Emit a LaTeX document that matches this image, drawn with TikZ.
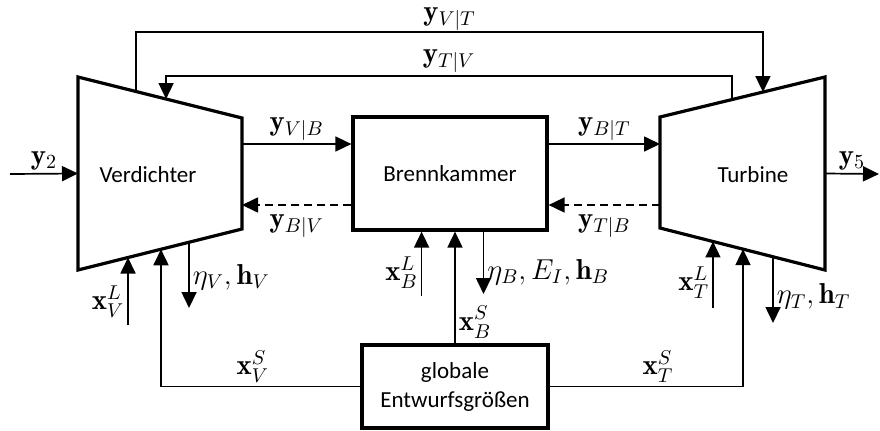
\documentclass[tikz,border=0pt]{standalone}
\usepackage{amsmath}
\usepackage{fontspec}
\newfontfamily\blockfont{Carlito}
\usetikzlibrary{arrows.meta, positioning, calc}

\tikzset{
  unit/.style={line width=1.6pt, line join=miter},
  txt/.style={font=\blockfont\fontsize{11.5}{14.5}\selectfont, align=center, inner sep=0pt},
  box/.style={txt, draw, line width=1.6pt, minimum width=97pt, minimum height=56.5pt},
  flow/.style={line width=0.85pt, -{Triangle[length=8pt,width=7.5pt]}},
  back/.style={flow, dash pattern=on 4pt off 2.5pt},
  lbl/.style={font=\Large, inner sep=1.5pt}
}

\begin{document}
\begin{tikzpicture}[x=0.5pt, y=-0.5pt]
  \useasboundingbox (0,0) rectangle (880,430);

  % --- Verdichter ---
  \coordinate (Vtl) at (78,77);
  \coordinate (Vtr) at (242,118);
  \coordinate (Vbr) at (242,229);
  \coordinate (Vbl) at (78,270);
  \draw[unit] (Vtl) -- (Vtr) -- (Vbr) -- (Vbl) -- cycle;
  \node[txt] (V) at (148,175) {Verdichter};

  % --- Turbine ---
  \coordinate (Ttl) at (660,117);
  \coordinate (Ttr) at (825,77);
  \coordinate (Tbr) at (825,270);
  \coordinate (Tbl) at (660,228);
  \draw[unit] (Ttl) -- (Ttr) -- (Tbr) -- (Tbl) -- cycle;
  \node[txt] (T) at (753,175) {Turbine};

  % --- Brennkammer and global box ---
  \node[box] (B) at (450,173.5) {Brennkammer};
  \node[box, minimum width=93pt, minimum height=41.5pt] (G) at (455,386.5) {globale\\Entwurfsgrößen};

  % --- points on the edges ---
  \coordinate (Vo)   at ($(Vtl)!0.354!(Vtr)$);
  \coordinate (Vi)   at ($(Vtl)!0.537!(Vtr)$);
  \coordinate (To)   at ($(Ttl)!0.436!(Ttr)$);
  \coordinate (Ti)   at ($(Ttl)!0.624!(Ttr)$);
  \coordinate (VxL)  at ($(Vbl)!0.305!(Vbr)$);
  \coordinate (VxS)  at ($(Vbl)!0.506!(Vbr)$);
  \coordinate (Veta) at ($(Vbl)!0.677!(Vbr)$);
  \coordinate (TxL)  at ($(Tbl)!0.321!(Tbr)$);
  \coordinate (TxS)  at ($(Tbl)!0.503!(Tbr)$);
  \coordinate (Teta) at ($(Tbl)!0.685!(Tbr)$);
  \coordinate (BxL)  at ($(B.south west)!0.356!(B.south east)$);
  \coordinate (Beta) at ($(B.south west)!0.67!(B.south east)$);
  \coordinate (top1) at (0,32);
  \coordinate (top2) at (0,76);
  \coordinate (y2in) at (10,174);
  \coordinate (y5out) at (879,174);

  % --- main flow ---
  \draw[flow] (y2in) -- node[lbl, above] {$\mathbf{y}_2$} ($(Vtl)!0.5!(Vbl)$);
  \draw[flow] ($(Ttr)!0.5!(Tbr)$) -- node[lbl, above] {$\mathbf{y}_5$} (y5out);
  \draw[flow] (Vtr |- 0,144) -- node[lbl, above] {$\mathbf{y}_{V|B}$} (B.west |- 0,144);
  \draw[back] (B.west |- 0,205) -- node[lbl, below=3pt] {$\mathbf{y}_{B|V}$} (Vtr |- 0,205);
  \draw[flow] (B.east |- 0,144) -- node[lbl, above] {$\mathbf{y}_{B|T}$} (Ttl |- 0,144);
  \draw[back] (Ttl |- 0,205) -- node[lbl, below=3pt] {$\mathbf{y}_{T|B}$} (B.east |- 0,205);

  % --- couplings over the top ---
  \draw[flow] (Vo) -- (Vo |- top1) -- node[lbl, above, inner sep=0.5pt] {$\mathbf{y}_{V|T}$} (Ti |- top1) -- (Ti);
  \draw[flow] (To) -- (To |- top2) -- node[lbl, above] {$\mathbf{y}_{T|V}$} (Vi |- top2) -- (Vi);

  % --- Verdichter inputs and outputs ---
  \draw[flow] (VxL |- 0,325) -- node[lbl, left, pos=0.35] {$\mathbf{x}_V^L$} (VxL);
  \draw[flow] (G.west) -| node[lbl, above, pos=0.27] {$\mathbf{x}_V^S$} (VxS);
  \draw[flow] (Veta) -- node[lbl, right, pos=0.53] {$\eta_V, \mathbf{h}_V$} (Veta |- 0,308);

  % --- Brennkammer inputs and outputs ---
  \draw[flow] (BxL |- 0,296) -- node[lbl, left, pos=0.36] {$\mathbf{x}_B^L$} (BxL);
  \draw[flow] (G.north) -- node[lbl, right, pos=0.19] {$\mathbf{x}_B^S$} (G.north |- B.south);
  \draw[flow] (Beta) -- node[lbl, right, pos=0.65] {$\eta_B, E_I, \mathbf{h}_B$} (Beta |- 0,294);

  % --- Turbine inputs and outputs ---
  \draw[flow] (TxL |- 0,308) -- node[lbl, left, pos=0.38] {$\mathbf{x}_T^L$} (TxL);
  \draw[flow] (G.east) -| node[lbl, above, pos=0.28] {$\mathbf{x}_T^S$} (TxS);
  \draw[flow] (Teta) -- node[lbl, right, pos=0.6] {$\eta_T, \mathbf{h}_T$} (Teta |- 0,323);
\end{tikzpicture}
\end{document}
